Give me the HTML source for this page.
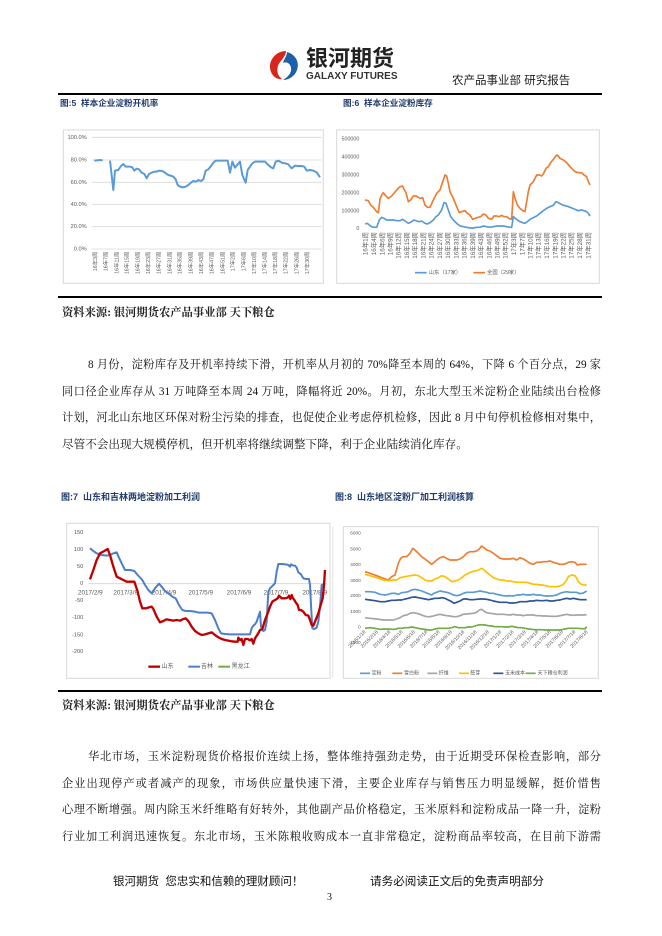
<!DOCTYPE html>
<html><head><meta charset="utf-8">
<style>
html,body{margin:0;padding:0;background:#fff;}
body{width:662px;height:936px;position:relative;overflow:hidden;font-family:"Liberation Serif","Noto Serif CJK SC",serif;color:#111;}
.abs{position:absolute;}
.ttl{position:absolute;font-family:"Liberation Sans","Noto Sans CJK SC",sans-serif;font-weight:bold;color:#1f3a6e;font-size:8.6px;line-height:12px;white-space:nowrap;}
.src{position:absolute;left:62px;font-family:"Liberation Serif","Noto Serif CJK SC",serif;font-weight:bold;font-size:11.3px;line-height:16px;white-space:nowrap;color:#222;}
.ln{position:absolute;font-size:11.2px;line-height:16px;height:16px;text-align:justify;text-align-last:justify;overflow:visible;color:#111;}
.ln.last{text-align-last:left;}
.rule{position:absolute;left:58px;width:544px;height:1.5px;background:#000;}
svg text{font-family:"Liberation Sans","Noto Sans CJK SC",sans-serif;fill:#595959;}
</style></head><body>

<!-- header logo -->
<svg class="abs" style="left:268px;top:50px" width="32" height="32" viewBox="0 0 32 32">
  <path d="M18,1 C7,1 -1,12 3,22 C5,27 10,30 14,29 C8,25 8,16 13,11 C15,8 18,5 18,1 Z" fill="#d7261e"/>
  <path d="M19,2 C27,4 32,12 29,20 C27,26 21,30 15,30 C22,26 25,20 22,15 C20,12 17,12 15,13 C16,9 19,6 19,2 Z" fill="#1d5fa8"/>
</svg>
<div class="abs" style="left:306px;top:46px;font-family:'Liberation Sans','Noto Sans CJK SC',sans-serif;font-weight:bold;font-size:22px;line-height:26px;color:#222;white-space:nowrap;">银河期货</div>
<div class="abs" style="left:306px;top:71px;font-family:'Liberation Sans',sans-serif;font-weight:bold;font-size:10px;line-height:11px;color:#333;white-space:nowrap;">GALAXY FUTURES</div>
<div class="abs" style="left:452px;top:74px;font-family:'Liberation Sans','Noto Sans CJK SC',sans-serif;font-size:11.5px;line-height:14px;color:#222;white-space:nowrap;">农产品事业部 研究报告</div>
<div class="rule" style="top:93px;"></div>

<div class="ttl" style="left:60px;top:97px;">图:5&nbsp; 样本企业淀粉开机率</div>
<div class="ttl" style="left:343px;top:97px;">图:6&nbsp; 样本企业淀粉库存</div>

<!-- Chart 5 -->
<svg class="abs" style="left:55px;top:120px" width="280" height="175" viewBox="0 0 840 525">
  <rect x="25" y="30" width="780" height="460" fill="none" stroke="#d9d9d9" stroke-width="3"/>
  <g stroke="#d9d9d9" stroke-width="2.5">
    <line x1="110" y1="52" x2="800" y2="52"/><line x1="110" y1="120" x2="800" y2="120"/>
    <line x1="110" y1="187" x2="800" y2="187"/><line x1="110" y1="253" x2="800" y2="253"/>
    <line x1="110" y1="320" x2="800" y2="320"/><line x1="110" y1="387" x2="800" y2="387"/>
  </g>
  <g font-size="17" text-anchor="end" dominant-baseline="middle">
    <text x="95" y="52">100.0%</text><text x="95" y="120">80.0%</text><text x="95" y="187">60.0%</text>
    <text x="95" y="253">40.0%</text><text x="95" y="320">20.0%</text><text x="95" y="387">0.0%</text>
  </g>
  <g font-size="16" text-anchor="end">
    <text transform="translate(126,395) rotate(-90)">16年3周</text>
    <text transform="translate(158,395) rotate(-90)">16年7周</text>
    <text transform="translate(190,395) rotate(-90)">16年11周</text>
    <text transform="translate(221,395) rotate(-90)">16年15周</text>
    <text transform="translate(253,395) rotate(-90)">16年19周</text>
    <text transform="translate(285,395) rotate(-90)">16年23周</text>
    <text transform="translate(317,395) rotate(-90)">16年27周</text>
    <text transform="translate(349,395) rotate(-90)">16年31周</text>
    <text transform="translate(380,395) rotate(-90)">16年35周</text>
    <text transform="translate(412,395) rotate(-90)">16年39周</text>
    <text transform="translate(444,395) rotate(-90)">16年43周</text>
    <text transform="translate(476,395) rotate(-90)">16年47周</text>
    <text transform="translate(508,395) rotate(-90)">16年51周</text>
    <text transform="translate(539,395) rotate(-90)">17年2周</text>
    <text transform="translate(571,395) rotate(-90)">17年6周</text>
    <text transform="translate(603,395) rotate(-90)">17年10周</text>
    <text transform="translate(635,395) rotate(-90)">17年14周</text>
    <text transform="translate(666,395) rotate(-90)">17年18周</text>
    <text transform="translate(698,395) rotate(-90)">17年22周</text>
    <text transform="translate(730,395) rotate(-90)">17年26周</text>
    <text transform="translate(762,395) rotate(-90)">17年30周</text>
  </g>
  <g fill="none" stroke="#5b9bd5" stroke-width="6" stroke-linejoin="round">
    <polyline points="118,122 135,120 143,121"/>
    <polyline points="165,122 175,210 180,152 190,150 198,138 205,132 212,140 225,140 232,142 238,152 245,146 252,148 260,158 268,162 275,175 282,162 290,158 298,155 305,155 312,152 322,153 330,158 340,165 350,168 355,170 362,178 368,195 375,200 385,202 392,200 400,195 408,188 415,183 422,185 430,180 438,183 445,178 452,152 460,148 468,138 475,128 482,122 490,122 500,122 510,122 518,122 525,158 532,125 540,143 548,133 555,125 562,165 572,188 578,150 585,140 592,130 600,125 610,125 620,125 630,125 640,135 648,142 655,145 662,125 670,122 680,128 690,130 700,133 710,145 720,137 730,138 740,138 748,140 755,152 765,150 775,152 785,157 795,172"/>
  </g>
</svg>

<!-- Chart 6 -->
<svg class="abs" style="left:330px;top:120px" width="280" height="175" viewBox="0 0 840 525">
  <rect x="20" y="30" width="788" height="460" fill="none" stroke="#d9d9d9" stroke-width="3"/>
  <g font-size="16" text-anchor="end" dominant-baseline="middle">
    <text x="88" y="58">500000</text><text x="88" y="112">400000</text><text x="88" y="166">300000</text>
    <text x="88" y="220">200000</text><text x="88" y="273">100000</text><text x="88" y="326">0</text>
  </g>
  <g font-size="19" text-anchor="end">
    <text transform="translate(113,336) rotate(-90)">16年1周</text>
    <text transform="translate(138,336) rotate(-90)">16年4周</text>
    <text transform="translate(163,336) rotate(-90)">16年6周</text>
    <text transform="translate(187,336) rotate(-90)">16年9周</text>
    <text transform="translate(212,336) rotate(-90)">16年12周</text>
    <text transform="translate(237,336) rotate(-90)">16年15周</text>
    <text transform="translate(261,336) rotate(-90)">16年18周</text>
    <text transform="translate(286,336) rotate(-90)">16年21周</text>
    <text transform="translate(311,336) rotate(-90)">16年24周</text>
    <text transform="translate(336,336) rotate(-90)">16年27周</text>
    <text transform="translate(360,336) rotate(-90)">16年30周</text>
    <text transform="translate(385,336) rotate(-90)">16年33周</text>
    <text transform="translate(410,336) rotate(-90)">16年36周</text>
    <text transform="translate(435,336) rotate(-90)">16年39周</text>
    <text transform="translate(459,336) rotate(-90)">16年43周</text>
    <text transform="translate(484,336) rotate(-90)">16年46周</text>
    <text transform="translate(509,336) rotate(-90)">16年49周</text>
    <text transform="translate(533,336) rotate(-90)">16年52周</text>
    <text transform="translate(558,336) rotate(-90)">17年3周</text>
    <text transform="translate(583,336) rotate(-90)">17年7周</text>
    <text transform="translate(608,336) rotate(-90)">17年10周</text>
    <text transform="translate(632,336) rotate(-90)">17年13周</text>
    <text transform="translate(657,336) rotate(-90)">17年16周</text>
    <text transform="translate(682,336) rotate(-90)">17年19周</text>
    <text transform="translate(707,336) rotate(-90)">17年22周</text>
    <text transform="translate(731,336) rotate(-90)">17年25周</text>
    <text transform="translate(756,336) rotate(-90)">17年28周</text>
    <text transform="translate(781,336) rotate(-90)">17年31周</text>
  </g>
  <g fill="none" stroke-width="5" stroke-linejoin="round">
    <polyline stroke="#ed7d31" points="105,240 115,242 122,255 130,262 140,275 145,278 150,238 155,225 160,218 165,225 175,235 185,228 190,222 200,210 210,200 218,198 222,208 228,218 235,245 242,240 250,228 258,228 265,232 270,235 278,233 285,255 292,262 300,262 310,240 320,220 330,210 338,185 345,165 350,168 355,190 360,215 370,235 380,260 388,278 395,275 405,272 412,280 420,285 428,298 435,295 445,292 452,290 460,282 468,285 475,295 485,298 492,288 500,288 508,290 515,286 522,290 530,290 538,296 545,298 550,215 555,235 562,255 570,265 578,272 585,275 590,245 595,215 600,195 610,185 620,165 628,165 635,168 640,162 648,145 655,140 662,128 670,118 680,105 685,108 690,115 700,120 710,128 720,140 728,148 735,155 745,158 755,158 762,165 770,170 775,185 780,195"/>
    <polyline stroke="#5b9bd5" points="105,312 112,310 118,315 125,320 133,322 140,322 148,300 155,292 162,295 170,300 180,300 190,300 200,302 210,302 218,298 225,303 235,310 245,305 252,300 260,303 268,305 275,303 285,310 292,312 300,308 310,300 318,290 325,285 335,270 342,248 348,250 355,270 362,290 370,300 380,310 390,318 400,320 410,322 420,324 430,324 440,322 450,322 460,318 470,320 480,322 490,320 500,318 510,318 520,318 530,320 538,322 545,322 550,290 556,295 562,300 570,305 578,308 585,310 592,305 600,298 610,293 620,288 630,280 640,272 650,265 660,260 670,256 678,245 685,248 692,252 700,256 710,258 720,262 728,265 735,268 745,272 755,270 762,272 770,275 775,280 780,288"/>
  </g>
  <line x1="255" y1="458" x2="290" y2="458" stroke="#5b9bd5" stroke-width="5"/>
  <text x="296" y="458" font-size="16" dominant-baseline="middle">山东（17家）</text>
  <line x1="430" y1="458" x2="465" y2="458" stroke="#ed7d31" stroke-width="5"/>
  <text x="471" y="458" font-size="16" dominant-baseline="middle">全国（29家）</text>
</svg>

<div class="rule" style="top:296px;"></div>
<div class="src" style="top:305px;">资料来源: 银河期货农产品事业部 天下粮仓</div>

<div class="ln" style="left:88px;width:513px;top:357px;">8 月份，淀粉库存及开机率持续下滑，开机率从月初的 70%降至本周的 64%，下降 6 个百分点，29 家</div>
<div class="ln" style="left:62px;width:539px;top:384px;">同口径企业库存从 31 万吨降至本周 24 万吨，降幅将近 20%。月初，东北大型玉米淀粉企业陆续出台检修</div>
<div class="ln" style="left:62px;width:539px;top:410px;">计划，河北山东地区环保对粉尘污染的排查，也促使企业考虑停机检修，因此 8 月中旬停机检修相对集中，</div>
<div class="ln last" style="left:62px;width:539px;top:437px;font-size:11.6px;">尽管不会出现大规模停机，但开机率将继续调整下降，利于企业陆续消化库存。</div>

<div class="ttl" style="left:61px;top:491px;font-size:9px;">图:7&nbsp; 山东和吉林两地淀粉加工利润</div>
<div class="ttl" style="left:335px;top:491px;font-size:9px;">图:8&nbsp; 山东地区淀粉厂加工利润核算</div>

<!-- Chart 7 -->
<svg class="abs" style="left:55px;top:485px" width="285" height="200" viewBox="0 0 855 600">
  <rect x="35" y="115" width="790" height="465" fill="none" stroke="#d9d9d9" stroke-width="3"/>
  <line x1="100" y1="296" x2="815" y2="296" stroke="#d9d9d9" stroke-width="3"/>
  <g font-size="17" text-anchor="end" dominant-baseline="middle">
    <text x="85" y="143">150</text><text x="85" y="193">100</text><text x="85" y="245">50</text>
    <text x="85" y="296">0</text><text x="85" y="347">-50</text><text x="85" y="397">-100</text>
    <text x="85" y="450">-150</text><text x="85" y="500">-200</text>
  </g>
  <g font-size="19" text-anchor="middle" dominant-baseline="middle">
    <text x="106" y="323">2017/2/9</text><text x="212" y="323">2017/3/9</text><text x="327" y="323">2017/4/9</text>
    <text x="437" y="323">2017/5/9</text><text x="552" y="323">2017/6/9</text><text x="663" y="323">2017/7/9</text>
    <text x="779" y="323">2017/8/9</text>
  </g>
  <g fill="none" stroke-linejoin="round">
    <polyline stroke="#4f7ec8" stroke-width="6" points="105,190 115,198 125,205 140,210 155,212 165,210 175,205 185,202 192,218 200,235 210,255 225,255 238,258 248,270 262,285 270,300 280,315 290,325 300,310 312,296 320,305 330,318 340,325 352,335 362,340 372,360 382,375 392,378 405,378 420,380 432,383 445,383 458,383 470,385 480,405 490,430 498,445 510,447 525,448 540,448 555,448 570,448 585,448 590,430 595,422 600,418 605,410 610,395 615,380 618,425 625,438 630,435 635,410 640,320 645,310 650,305 655,300 660,295 665,260 670,237 680,237 692,238 700,240 705,245 708,238 715,242 720,242 725,248 730,262 738,268 745,280 752,282 762,282 765,300 768,360 772,430 778,432 785,428 790,410 795,365 800,300 805,298 810,300"/>
    <polyline stroke="#c00000" stroke-width="7" points="105,283 115,255 125,225 135,205 148,198 158,192 165,210 175,245 185,275 195,280 205,285 215,290 225,290 238,290 248,320 255,350 262,370 272,370 282,367 290,365 295,372 305,395 315,412 325,408 335,403 345,405 355,407 365,405 375,407 385,402 392,400 400,408 410,425 420,438 430,445 440,450 450,448 460,445 470,442 480,450 490,457 500,462 510,465 520,467 530,469 540,470 548,470 550,458 555,465 560,462 565,480 570,462 578,462 585,466 590,462 595,476 600,460 608,448 615,435 622,432 630,405 638,385 645,365 652,350 660,345 668,340 672,332 680,340 690,340 698,338 702,332 706,342 710,330 714,340 718,345 722,352 728,360 732,375 738,375 745,380 752,390 760,392 765,405 770,420 775,422 782,405 790,385 797,360 803,340 807,300 810,255"/>
  </g>
  <line x1="280" y1="545" x2="315" y2="545" stroke="#c00000" stroke-width="7"/>
  <text x="320" y="545" font-size="18" dominant-baseline="middle">山东</text>
  <line x1="400" y1="545" x2="435" y2="545" stroke="#4f7ec8" stroke-width="6"/>
  <text x="438" y="545" font-size="18" dominant-baseline="middle">吉林</text>
  <line x1="490" y1="545" x2="525" y2="545" stroke="#70ad47" stroke-width="6"/>
  <text x="530" y="545" font-size="18" dominant-baseline="middle">黑龙江</text>
</svg>

<!-- Chart 8 -->
<svg class="abs" style="left:330px;top:485px" width="280" height="200" viewBox="0 0 840 600">
  <line x1="8" y1="125" x2="8" y2="578" stroke="#e3e3e3" stroke-width="3"/>
  <rect x="40" y="125" width="765" height="455" fill="none" stroke="#d9d9d9" stroke-width="3"/>
  <g font-size="14" text-anchor="end" dominant-baseline="middle">
    <text x="92" y="145">6000</text><text x="92" y="193">5000</text><text x="92" y="240">4000</text>
    <text x="92" y="287">3000</text><text x="92" y="333">2000</text><text x="92" y="380">1000</text>
    <text x="92" y="427">0</text><text x="92" y="473">-1000</text>
  </g>
  <g font-size="15" text-anchor="end">
    <text transform="translate(108,442) rotate(-45)">2016/1/18</text>
    <text transform="translate(145,442) rotate(-45)">2016/2/18</text>
    <text transform="translate(182,442) rotate(-45)">2016/4/18</text>
    <text transform="translate(219,442) rotate(-45)">2016/5/18</text>
    <text transform="translate(256,442) rotate(-45)">2016/6/18</text>
    <text transform="translate(293,442) rotate(-45)">2016/7/18</text>
    <text transform="translate(330,442) rotate(-45)">2016/8/18</text>
    <text transform="translate(367,442) rotate(-45)">2016/9/18</text>
    <text transform="translate(404,442) rotate(-45)">2016/10/18</text>
    <text transform="translate(441,442) rotate(-45)">2016/11/18</text>
    <text transform="translate(478,442) rotate(-45)">2016/12/18</text>
    <text transform="translate(515,442) rotate(-45)">2017/1/18</text>
    <text transform="translate(552,442) rotate(-45)">2017/2/18</text>
    <text transform="translate(589,442) rotate(-45)">2017/3/18</text>
    <text transform="translate(626,442) rotate(-45)">2017/4/18</text>
    <text transform="translate(663,442) rotate(-45)">2017/5/18</text>
    <text transform="translate(700,442) rotate(-45)">2017/6/18</text>
    <text transform="translate(737,442) rotate(-45)">2017/7/18</text>
    <text transform="translate(774,442) rotate(-45)">2017/8/18</text>
  </g>
  <g fill="none" stroke-width="5" stroke-linejoin="round">
    <polyline stroke="#ed7d31" points="105,260 120,265 140,272 160,280 175,285 185,275 195,270 205,235 212,220 220,215 230,215 240,205 248,190 255,195 265,205 275,215 285,222 295,230 305,238 312,232 320,225 330,218 340,215 350,220 360,225 370,225 380,225 390,222 400,215 410,205 420,200 432,200 440,198 448,192 455,183 462,188 470,195 480,198 490,205 500,212 510,220 520,222 530,222 540,222 550,220 560,225 570,218 580,222 590,228 600,235 610,238 620,232 630,232 640,230 650,230 660,228 670,232 680,235 690,238 700,238 710,235 715,232 725,230 735,232 742,240 750,238 760,238 770,238"/>
    <polyline stroke="#ffc000" points="105,268 120,272 140,278 160,285 175,287 190,285 200,285 210,278 225,275 240,272 255,270 265,272 275,278 285,285 295,288 305,288 315,282 325,278 335,272 345,275 355,282 365,290 375,288 385,285 395,278 405,270 415,265 425,260 435,258 445,255 455,250 462,255 470,262 480,270 490,278 500,282 510,285 520,285 530,288 540,288 550,290 560,292 570,292 580,292 590,292 600,295 610,298 620,298 630,300 640,300 650,303 660,305 670,305 680,305 690,303 700,298 710,285 715,275 725,270 735,272 740,280 745,290 752,297 760,300 770,300"/>
    <polyline stroke="#5b9bd5" points="105,320 120,320 135,322 150,328 165,330 175,328 185,325 195,325 205,328 215,323 225,322 235,320 245,315 255,313 265,315 275,318 285,322 295,326 305,330 312,325 320,322 330,318 340,320 350,322 360,325 370,330 380,332 390,330 400,325 410,322 420,322 430,322 440,320 450,318 460,320 470,322 480,325 490,325 500,328 510,330 520,332 530,333 540,332 550,333 560,330 570,330 580,328 590,330 600,330 610,328 620,330 630,330 640,332 650,333 660,333 670,332 680,330 690,325 700,322 710,320 720,322 730,322 740,322 750,326 760,324 770,318"/>
    <polyline stroke="#2f5597" points="105,343 120,345 135,347 150,350 165,350 175,348 185,346 195,346 205,345 215,345 225,342 235,340 245,337 255,336 265,338 275,340 285,342 295,344 305,342 315,340 325,340 335,338 345,340 355,345 365,350 372,355 380,352 390,348 400,342 410,342 420,344 430,344 440,343 450,342 460,342 470,343 480,345 490,348 500,350 510,352 520,352 530,352 540,354 550,354 560,353 570,350 580,350 590,350 600,348 610,348 620,346 630,347 640,347 650,346 660,348 670,348 680,346 690,345 700,342 710,340 720,342 730,340 740,342 750,344 760,344 770,344"/>
    <polyline stroke="#a5a5a5" points="105,398 120,400 140,402 160,405 175,405 190,405 200,402 210,398 220,392 230,390 240,385 250,383 260,385 270,388 280,392 290,395 300,395 310,393 320,390 330,388 340,390 350,392 360,393 370,395 380,395 390,392 400,388 410,387 420,386 430,385 440,382 448,375 455,373 462,378 470,383 480,385 490,386 500,388 510,388 520,388 530,389 540,390 550,388 560,390 570,390 580,392 590,390 600,390 610,390 620,392 630,392 640,393 650,393 660,394 670,394 680,394 690,392 700,390 710,388 720,390 730,391 740,390 750,390 760,390 770,389"/>
    <polyline stroke="#70ad47" points="105,430 120,428 135,430 150,433 165,432 175,432 185,433 195,433 205,430 215,430 225,428 235,428 245,426 255,428 265,430 275,432 285,433 295,435 305,435 315,432 325,430 335,430 345,430 355,430 365,428 375,425 385,428 395,428 405,428 415,426 425,426 435,423 445,420 455,419 465,420 475,422 485,423 495,425 505,425 515,425 525,426 535,426 545,424 555,426 565,428 575,428 585,430 595,432 605,433 615,434 625,434 635,434 645,435 655,435 665,435 675,435 685,435 695,434 705,432 715,430 725,430 735,430 745,430 755,431 765,431 770,425"/>
  </g>
  <g stroke-width="5">
    <line x1="90" y1="565" x2="120" y2="565" stroke="#5b9bd5"/>
    <line x1="187" y1="565" x2="217" y2="565" stroke="#ed7d31"/>
    <line x1="292" y1="565" x2="322" y2="565" stroke="#a5a5a5"/>
    <line x1="387" y1="565" x2="417" y2="565" stroke="#ffc000"/>
    <line x1="490" y1="565" x2="520" y2="565" stroke="#2f5597"/>
    <line x1="587" y1="565" x2="617" y2="565" stroke="#70ad47"/>
  </g>
  <g font-size="15" dominant-baseline="middle">
    <text x="125" y="565">淀粉</text><text x="222" y="565">雪白粉</text><text x="326" y="565">纤维</text>
    <text x="421" y="565">胚芽</text><text x="525" y="565">玉米成本</text><text x="623" y="565">天下粮仓利润</text>
  </g>
</svg>

<div class="rule" style="top:690px;"></div>
<div class="src" style="top:698px;">资料来源: 银河期货农产品事业部 天下粮仓</div>

<div class="ln" style="left:88px;width:513px;top:749px;">华北市场，玉米淀粉现货价格报价连续上扬，整体维持强劲走势，由于近期受环保检查影响，部分</div>
<div class="ln" style="left:62px;width:539px;top:776px;">企业出现停产或者减产的现象，市场供应量快速下滑，主要企业库存与销售压力明显缓解，挺价惜售</div>
<div class="ln" style="left:62px;width:539px;top:802px;">心理不断增强。周内除玉米纤维略有好转外，其他副产品价格稳定，玉米原料和淀粉成品一降一升，淀粉</div>
<div class="ln" style="left:62px;width:539px;top:829px;">行业加工利润迅速恢复。东北市场，玉米陈粮收购成本一直非常稳定，淀粉商品率较高，在目前下游需</div>

<div class="abs" style="left:113px;top:874px;font-family:'Liberation Sans','Noto Sans CJK SC',sans-serif;font-size:11.5px;line-height:16px;white-space:nowrap;color:#111;">银河期货&nbsp; 您忠实和信赖的理财顾问！</div>
<div class="abs" style="left:370px;top:874px;font-family:'Liberation Sans','Noto Sans CJK SC',sans-serif;font-size:11.6px;line-height:16px;white-space:nowrap;color:#111;">请务必阅读正文后的免责声明部分</div>
<div class="abs" style="left:327px;top:892px;font-size:10px;line-height:12px;color:#111;">3</div>

</body></html>
